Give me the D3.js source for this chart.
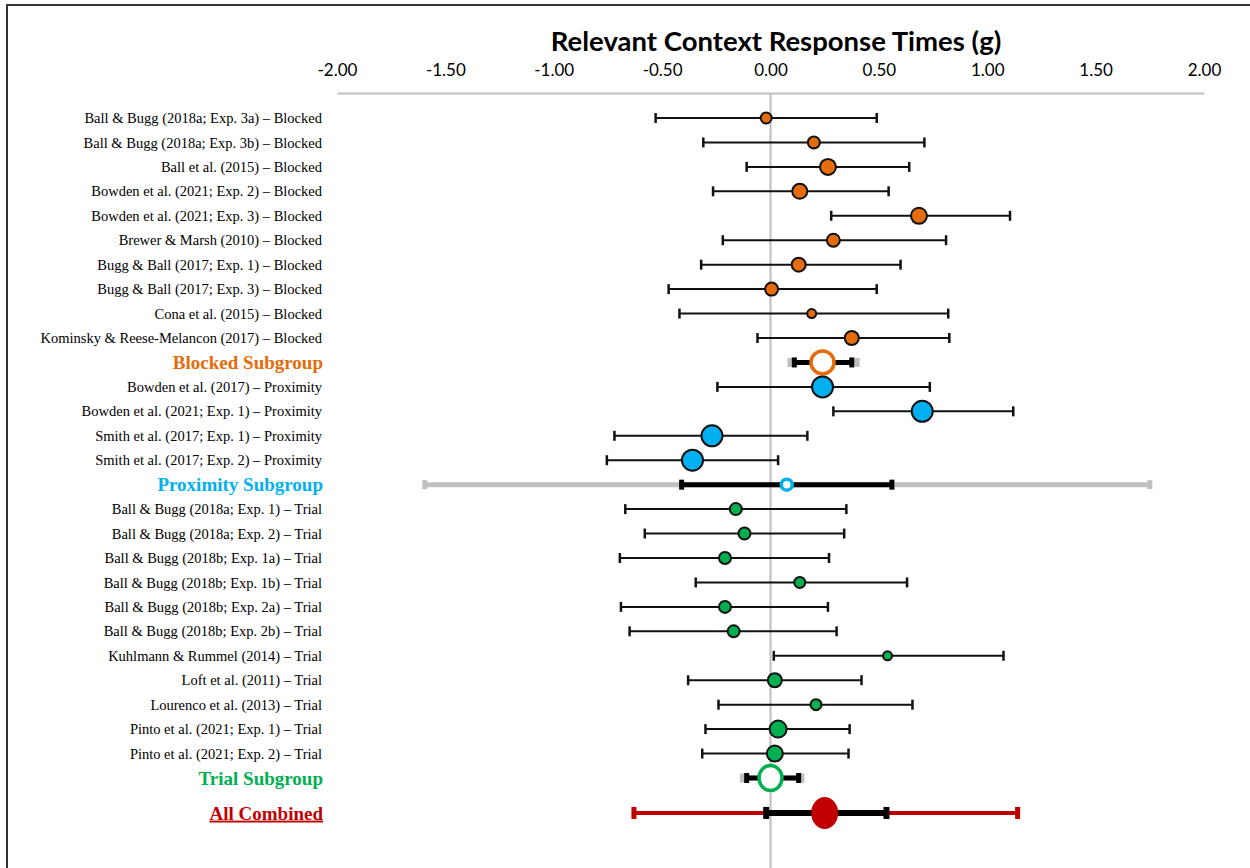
<!DOCTYPE html>
<html><head><meta charset="utf-8">
<script src="https://cdn.jsdelivr.net/npm/d3@7"></script>
<style>body{margin:0;background:#fff}</style>
</head><body>
<svg id="c" width="1250" height="868"></svg>
<script>
const ticks = [-2, -1.5, -1, -0.5, 0, 0.5, 1, 1.5, 2];

const studyLabels = [
 "Ball & Bugg (2018a; Exp. 3a) – Blocked","Ball & Bugg (2018a; Exp. 3b) – Blocked","Ball et al. (2015) – Blocked",
 "Bowden et al. (2021; Exp. 2) – Blocked","Bowden et al. (2021; Exp. 3) – Blocked","Brewer & Marsh (2010) – Blocked",
 "Bugg & Ball (2017; Exp. 1) – Blocked","Bugg & Ball (2017; Exp. 3) – Blocked","Cona et al. (2015) – Blocked",
 "Kominsky & Reese-Melancon (2017) – Blocked",
 "Bowden et al. (2017) – Proximity","Bowden et al. (2021; Exp. 1) – Proximity","Smith et al. (2017; Exp. 1) – Proximity",
 "Smith et al. (2017; Exp. 2) – Proximity",
 "Ball & Bugg (2018a; Exp. 1) – Trial","Ball & Bugg (2018a; Exp. 2) – Trial","Ball & Bugg (2018b; Exp. 1a) – Trial",
 "Ball & Bugg (2018b; Exp. 1b) – Trial","Ball & Bugg (2018b; Exp. 2a) – Trial","Ball & Bugg (2018b; Exp. 2b) – Trial",
 "Kuhlmann  & Rummel (2014) – Trial","Loft et al. (2011) – Trial","Lourenco et al. (2013) – Trial",
 "Pinto et al. (2021; Exp. 1) – Trial","Pinto et al. (2021; Exp. 2) – Trial"
];
const studyGroup = ["Blocked","Blocked","Blocked","Blocked","Blocked","Blocked","Blocked","Blocked","Blocked","Blocked",
 "Proximity","Proximity","Proximity","Proximity",
 "Trial","Trial","Trial","Trial","Trial","Trial","Trial","Trial","Trial","Trial","Trial"];
const studyEst = [-0.02,0.20,0.265,0.135,0.685,0.29,0.13,0.005,0.19,0.375, 0.24,0.70,-0.27,-0.36,
 -0.16,-0.12,-0.21,0.135,-0.21,-0.17,0.54,0.02,0.21,0.035,0.02];
const studyLo = [-0.53,-0.31,-0.11,-0.265,0.28,-0.22,-0.32,-0.47,-0.42,-0.06, -0.245,0.29,-0.72,-0.755,
 -0.67,-0.58,-0.695,-0.345,-0.69,-0.65,0.015,-0.38,-0.24,-0.30,-0.315];
const studyHi = [0.49,0.71,0.64,0.545,1.105,0.81,0.60,0.49,0.82,0.825, 0.735,1.12,0.17,0.035,
 0.35,0.34,0.27,0.63,0.265,0.305,1.075,0.42,0.655,0.365,0.36];
const studyWeight = [5.5,6,8,7.5,8,6.5,7,6.5,4.5,7, 10.5,10.5,10.5,10.5, 6,6,6,5.5,6,6,4.5,7,5.5,8.5,8];

const subLabels = ["Blocked Subgroup","Proximity Subgroup","Trial Subgroup"];
const subGroup = ["Blocked","Proximity","Trial"];
const subEst = [0.24,0.075,0.0];
const subLo = [0.11,-0.41,-0.11];
const subHi = [0.375,0.56,0.13];
const subPiLo = [0.09,-1.595,-0.13];
const subPiHi = [0.40,1.75,0.145];

const allLabel = "All Combined";
const allEst = 0.25, allLo = -0.02, allHi = 0.535, allPiLo = -0.63, allPiHi = 1.14;

const colors = {Blocked:"#E46C0A", Proximity:"#00B0F0", Trial:"#00B050", All:"#C00000"};

// build rows
const rows = [];
["Blocked","Proximity","Trial"].forEach((g, gi) => {
  studyLabels.forEach((l, i) => { if (studyGroup[i] === g) rows.push({type:"study", label:l, g, est:studyEst[i], lo:studyLo[i], hi:studyHi[i], w:studyWeight[i]}); });
  rows.push({type:"sub", label:subLabels[gi], g, est:subEst[gi], lo:subLo[gi], hi:subHi[gi], pl:subPiLo[gi], ph:subPiHi[gi]});
});
rows.push({type:"all", label:allLabel, g:"All", est:allEst, lo:allLo, hi:allHi, pl:allPiLo, ph:allPiHi});
rows.forEach((r, i) => r.idx = (r.type === "all") ? i + 0.43 : i);

const svg = d3.select("#c");
const x = d3.scaleLinear().domain([-2, 2]).range([337, 1204]);
const y = d3.scaleLinear().domain([0, 27]).range([118, 778]);

// border
svg.append("path").attr("d", "M7,868 V5 H1250").attr("fill","none").attr("stroke","#333").attr("stroke-width",2);

// title
svg.append("text").attr("x", 776).attr("y", 51).attr("text-anchor","middle")
  .style("font-family","Lato, 'Open Sans', sans-serif").style("font-weight","bold").style("font-size","27.5px")
  .text("Relevant Context Response Times (g)");

// axis
const fmt = d3.format(".2f");
const ax = svg.append("g").attr("transform","translate(0,93)")
  .call(d3.axisTop(x).tickValues(ticks).tickSize(0).tickPadding(17).tickFormat(d => fmt(d).replace("\u2212", "-")));
ax.select(".domain").attr("stroke","#bfbfbf").attr("stroke-width",2);
ax.selectAll("text").style("font-family","Lato, 'Open Sans', sans-serif").style("font-size","17px").attr("fill","#000");

// zero line
svg.append("line").attr("x1", x(0)).attr("x2", x(0)).attr("y1", 93).attr("y2", 868)
  .attr("stroke","#bfbfbf").attr("stroke-width",2);

// labels
svg.selectAll("text.lab").data(rows).join("text").attr("class","lab")
  .attr("x", d => d.type === "study" ? 322 : 323)
  .attr("y", d => y(d.idx)).attr("dy","0.35em").attr("text-anchor","end")
  .style("font-family","'Liberation Serif','Times New Roman',serif")
  .style("font-size", d => d.type === "study" ? "14.5px" : "19px")
  .style("font-weight", d => d.type === "study" ? "normal" : "bold")
  .style("text-decoration", d => d.type === "all" ? "underline" : "none")
  .attr("fill", d => d.type === "study" ? "#000" : colors[d.g])
  .text(d => d.label);

function bar(sel, lo, hi, yy, color, sw, capH, capW) {
  sel.append("line").attr("x1", x(lo)).attr("x2", x(hi)).attr("y1", yy).attr("y2", yy)
    .attr("stroke", color).attr("stroke-width", sw);
  [lo, hi].forEach(v => sel.append("line").attr("x1", x(v)).attr("x2", x(v))
    .attr("y1", yy - capH/2).attr("y2", yy + capH/2).attr("stroke", color).attr("stroke-width", capW));
}

const g = svg.append("g");
rows.forEach(r => {
  const yy = y(r.idx);
  if (r.type === "study") {
    bar(g, r.lo, r.hi, yy, "#111", 2, 10, 2.5);
    g.append("circle").attr("cx", x(r.est)).attr("cy", yy).attr("r", r.w)
      .attr("fill", colors[r.g]).attr("stroke","#111").attr("stroke-width",2);
  } else if (r.type === "sub") {
    bar(g, r.pl, r.ph, yy, "#bfbfbf", 5, 9, 5);
    bar(g, r.lo, r.hi, yy, "#000", 5, 10, 5);
    const rad = r.g === "Proximity" ? 5.5 : 11.5;
    g.append("ellipse").attr("cx", x(r.est)).attr("cy", yy).attr("rx", rad).attr("ry", r.g === "Trial" ? 12.5 : rad)
      .attr("fill","#fff").attr("stroke", colors[r.g]).attr("stroke-width", 3.5);
  } else {
    bar(g, r.pl, r.ph, yy, colors.All, 4, 12, 5);
    bar(g, r.lo, r.hi, yy, "#000", 6, 12, 6);
    g.append("ellipse").attr("cx", x(r.est)).attr("cy", yy).attr("rx", 13.5).attr("ry", 16)
      .attr("fill", colors.All);
  }
});
</script>
</body></html>
